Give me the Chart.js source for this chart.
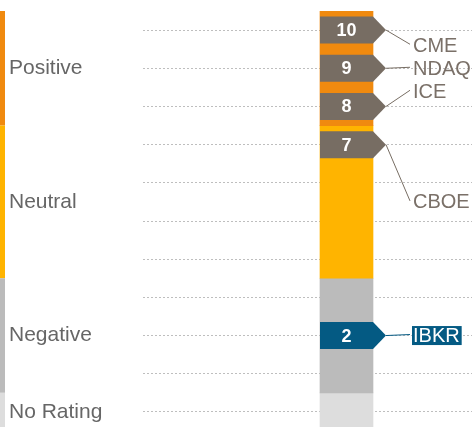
<!DOCTYPE html>
<html>
<head>
<meta charset="utf-8">
<script src="https://cdn.jsdelivr.net/npm/chart.js@4.4.0/dist/chart.umd.min.js"></script>
<style>
  html, body { margin: 0; padding: 0; background: #fff; overflow: hidden; }
  #wrap { width: 550px; height: 441px; }
</style>
</head>
<body>
<div id="wrap"><canvas id="ratings-chart" width="550" height="441"></canvas></div>
<script>
// rating bands on the score axis
var bandNames = ['Positive', 'Neutral', 'Negative', 'No Rating'];
var bandLow = [7.5, 3.5, 0.5, -0.5];
var bandHigh = [10.5, 7.5, 3.5, 0.5];
var bandColors = ['#F08A0F', '#FFB400', '#BBBBBB', '#DDDDDD'];

// companies and their scores
var companies = ['CME', 'NDAQ', 'ICE', 'CBOE', 'IBKR'];
var scores = [10, 9, 8, 7, 2];
var highlighted = ['IBKR'];

// dotted gridlines
var gridTicks = [0, 1, 2, 3, 4, 5, 6, 7, 8, 9, 10];

var markerColor = '#776D63';
var highlightColor = '#045A83';
var labelColor = '#7A7068';

function bandCenter(i) { return (bandLow[i] + bandHigh[i]) / 2; }

function bandOf(v) {
  for (var i = 0; i < bandNames.length; i++) {
    if (v >= bandLow[i] && v <= bandHigh[i]) return i;
  }
  return -1;
}

var tickValues = gridTicks.slice();
for (var b = 0; b < bandNames.length; b++) {
  if (tickValues.indexOf(bandCenter(b)) < 0) tickValues.push(bandCenter(b));
}
tickValues.sort(function (a, c) { return a - c; });

var datasets = bandNames.map(function (name, i) {
  return {
    label: name,
    data: [[bandLow[i], bandHigh[i]]],
    backgroundColor: bandColors[i],
    borderWidth: 0,
    grouped: false,
    barThickness: 53
  };
});

var markerPlugin = {
  id: 'markers',
  beforeDatasetsDraw: function (chart) {
    // colour strip beside the rating names
    var ctx = chart.ctx, y = chart.scales.y;
    ctx.save();
    for (var i = 0; i < bandNames.length; i++) {
      var top = y.getPixelForValue(bandHigh[i]);
      var bottom = y.getPixelForValue(bandLow[i]);
      ctx.fillStyle = bandColors[i];
      ctx.fillRect(0, top, 5, bottom - top);
    }
    ctx.restore();
  },
  afterDatasetsDraw: function (chart) {
    var ctx = chart.ctx, y = chart.scales.y;
    var bar = chart.getDatasetMeta(0).data[0];
    var left = bar.x - bar.width / 2, right = bar.x + bar.width / 2;
    var half = 13.5, tip = 13, labelX = 413, lineH = 23;

    // labels grouped per band, stacked round the band centre
    var groups = {};
    companies.forEach(function (c, i) {
      var k = bandOf(scores[i]);
      (groups[k] = groups[k] || []).push(i);
    });

    ctx.save();
    Object.keys(groups).forEach(function (k) {
      var list = groups[k];
      var cy = y.getPixelForValue(bandCenter(+k));
      list.forEach(function (idx, j) {
        var name = companies[idx];
        var my = y.getPixelForValue(scores[idx]);
        var ly = cy + (j - (list.length - 1) / 2) * lineH;
        var hl = highlighted.indexOf(name) >= 0;
        var col = hl ? highlightColor : markerColor;

        // leader line
        ctx.strokeStyle = col;
        ctx.lineWidth = 1;
        ctx.beginPath();
        ctx.moveTo(right + tip, my);
        ctx.lineTo(labelX - 3, ly - 1);
        ctx.stroke();

        // arrow marker
        ctx.fillStyle = col;
        ctx.beginPath();
        ctx.moveTo(left, my - half);
        ctx.lineTo(right, my - half);
        ctx.lineTo(right + tip, my);
        ctx.lineTo(right, my + half);
        ctx.lineTo(left, my + half);
        ctx.closePath();
        ctx.fill();

        ctx.fillStyle = '#FFFFFF';
        ctx.font = 'bold 18px "Liberation Sans", Arial, sans-serif';
        ctx.textAlign = 'center';
        ctx.textBaseline = 'middle';
        ctx.fillText(String(scores[idx]), bar.x, my + 1);

        // company label
        ctx.font = '20px "Liberation Sans", Arial, sans-serif';
        ctx.textAlign = 'left';
        if (hl) {
          var w = ctx.measureText(name).width;
          ctx.fillStyle = highlightColor;
          ctx.fillRect(labelX - 1, ly - 9.5, w + 3, 19);
          ctx.fillStyle = '#FFFFFF';
        } else {
          ctx.fillStyle = labelColor;
        }
        ctx.fillText(name, labelX, ly + 1);
      });
    });
    ctx.restore();
  }
};

var ctx = document.getElementById('ratings-chart').getContext('2d');
var ratingsChart = new Chart(ctx, {
  type: 'bar',
  data: { labels: ['Rating'], datasets: datasets },
  options: {
    responsive: false,
    animation: false,
    layout: { padding: { left: 9, top: 11, bottom: 10, right: 0 } },
    plugins: { legend: { display: false }, tooltip: { enabled: false } },
    scales: {
      x: { display: false },
      y: {
        min: -0.5,
        max: 10.5,
        afterBuildTicks: function (scale) {
          scale.ticks = tickValues.map(function (v) { return { value: v }; });
        },
        afterFit: function (scale) {
          scale.width = 134;
          scale.paddingTop = 0;
          scale.paddingBottom = 0;
        },
        grid: {
          drawTicks: false,
          color: function (c) {
            return c.tick && Number.isInteger(c.tick.value) ? '#BEBEBE' : 'rgba(0,0,0,0)';
          }
        },
        border: { display: false, dash: [2, 2] },
        ticks: {
          autoSkip: false,
          crossAlign: 'far',
          color: '#666666',
          font: { family: '"Liberation Sans", Arial, sans-serif', size: 21 },
          callback: function (value) {
            for (var i = 0; i < bandNames.length; i++) {
              if (bandCenter(i) === value) return bandNames[i];
            }
            return '';
          }
        }
      }
    }
  },
  plugins: [markerPlugin]
});
</script>
</body>
</html>
